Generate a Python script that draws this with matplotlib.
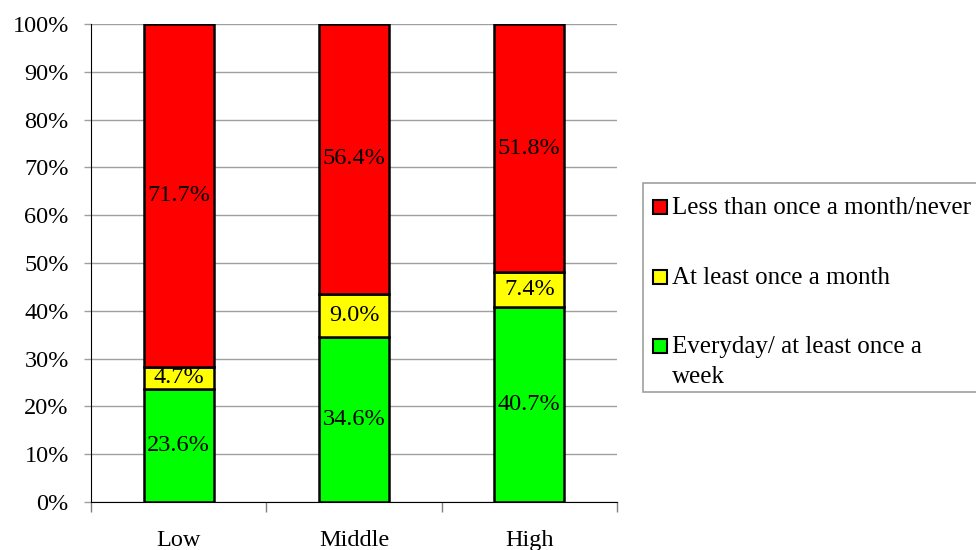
import matplotlib
matplotlib.use("Agg")
import matplotlib.pyplot as plt
from matplotlib.patches import Rectangle
import numpy as np

categories = ["Low", "Middle", "High"]
everyday = [23.6, 34.6, 40.7]
monthly = [4.7, 9.0, 7.4]
rarely = [71.7, 56.4, 51.8]
series_labels = ["Everyday/ at least once a\nweek", "At least once a month",
                 "Less than once a month/never"]
series_colors = ["#00ff00", "#ffff00", "#ff0000"]
yticks = list(range(0, 101, 10))

plt.rcParams["font.family"] = ["Liberation Serif", "DejaVu Serif"]
FS = 17.5
W, H = 976, 550

fig = plt.figure(figsize=(W / 100, H / 100), dpi=100)
ax = fig.add_axes([91 / W, 48 / H, 526 / W, 478 / H])

x = np.arange(len(categories))
bottom = np.zeros(len(categories))
for vals, color, lab in zip([everyday, monthly, rarely], series_colors, series_labels):
    vals = np.array(vals)
    ax.bar(x, vals, width=0.4, bottom=bottom, color=color,
           edgecolor="black", linewidth=1.8, label=lab, zorder=3)
    for xi, b, v in zip(x, bottom, vals):
        ax.text(xi, b + v / 2, f"{v:.1f}%", ha="center", va="center",
                fontsize=FS, zorder=4)
    bottom += vals

ax.set_xlim(-0.5, 2.5)
ax.set_ylim(0, 100)
ax.set_yticks(yticks)
ax.set_yticklabels([f"{t}%" for t in yticks], fontsize=FS)
ax.yaxis.grid(True, color="#a0a0a0", linewidth=1, zorder=0)
ax.set_xticks(x)
ax.set_xticklabels(categories, fontsize=FS)
ax.tick_params(axis="x", length=0, pad=20)
ax.set_xticks([-0.5, 0.5, 1.5, 2.5], minor=True)
ax.tick_params(axis="x", which="minor", length=7, color="#808080", width=1)
ax.tick_params(axis="y", length=5, color="#a0a0a0", width=1, pad=11)
for s in ["top", "right"]:
    ax.spines[s].set_visible(False)
for s in ["left", "bottom"]:
    ax.spines[s].set_color("black")
    ax.spines[s].set_zorder(5)


def fx(px):
    return px / W


def fy(py):
    return 1 - py / H


# legend box, drawn by hand so entries sit on an even pitch
fig.patches.append(Rectangle((fx(643), fy(392)), fx(360), (392 - 183) / H,
                             transform=fig.transFigure, facecolor="white",
                             edgecolor="#a0a0a0", linewidth=1.2))
entry_y = [207, 277, 346]
for py, color, lab in zip(entry_y, series_colors[::-1], series_labels[::-1]):
    fig.patches.append(Rectangle((fx(653), fy(py + 7)), 14 / W, 14 / H,
                                 transform=fig.transFigure, facecolor=color,
                                 edgecolor="black", linewidth=1.5))
    fig.text(fx(672), fy(py - 10), lab, ha="left", va="top", fontsize=18,
             linespacing=1.45)

fig.savefig("out.png", dpi=100)
